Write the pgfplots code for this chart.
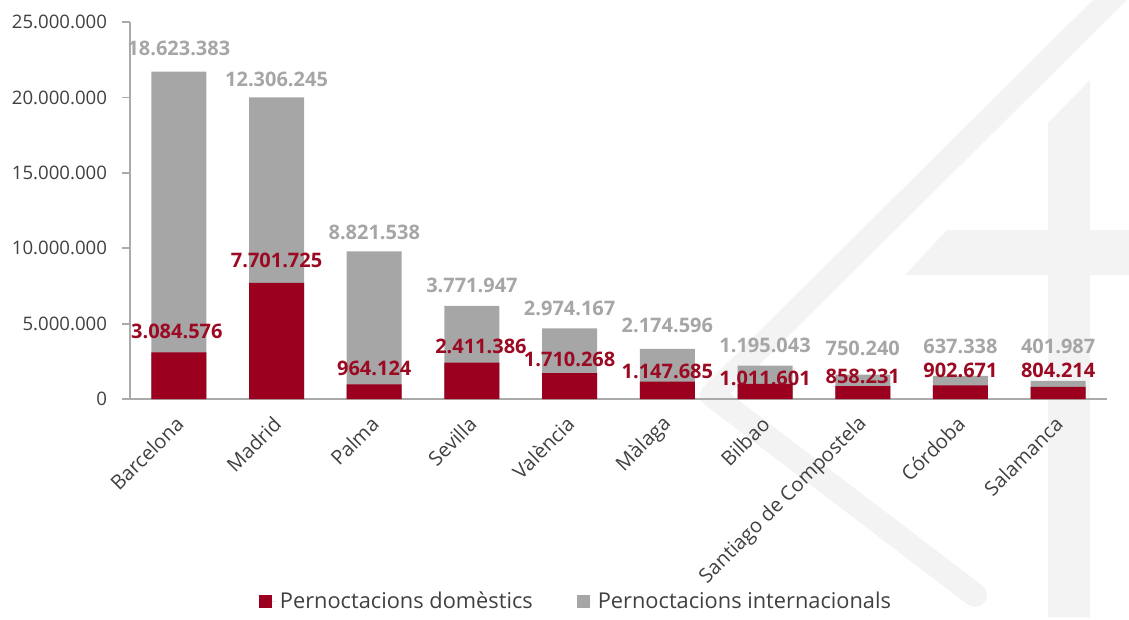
\documentclass[border=0pt]{standalone}
\usepackage{pgfplots}
\pgfplotsset{compat=1.18}
\usepackage{pgfplotstable}
\usepackage{fontspec}
\setmainfont{Open Sans}
\definecolor{barred}{RGB}{155,0,30}
\definecolor{bargray}{RGB}{166,166,166}
\definecolor{axgray}{RGB}{170,170,170}
\definecolor{tickcol}{RGB}{64,64,64}
\definecolor{labred}{RGB}{155,10,34}
\definecolor{labgray}{RGB}{166,166,166}
\definecolor{wm}{RGB}{243,243,243}

% dom = pernoctacions domestiques, total = domestiques + internacionals
\pgfplotstableread{
x dom total dlab ilab dys iys dxs
0 3084576 21707959 3.084.576 18.623.383 10.4 11.8 -1
1 7701725 20007970 7.701.725 12.306.245 11.1 9.2 0
2 964124 9785662 964.124 8.821.538 8.1 9.7 0
3 2411386 6183333 2.411.386 3.771.947 8.0 10.4 4.5
4 1710268 4684435 1.710.268 2.974.167 7.0 10.2 0
5 1147685 3322281 1.147.685 2.174.596 5.0 12.0 0
6 1011601 2206644 1.011.601 1.195.043 2.9 10.0 0
7 858231 1608471 858.231 750.240 5.0 13.4 0
8 902671 1540009 902.671 637.338 7.7 14.9 0
9 804214 1206201 804.214 401.987 8.0 17.4 0
}\data

\begin{document}
\begin{tikzpicture}
\begin{scope}[shift={(-65pt,199.5pt)}, x=0.5pt, y=-0.5pt]
\path (0,0) rectangle (1129,617);
\begin{scope}
\clip (0,0) rectangle (1129,617);
\draw[wm, line width=12pt, line cap=round, line join=round] (1120,-10) -- (712,395) -- (975,595);
\fill[wm] (1048,123) -- (1090,80) -- (1090,617) -- (1048,617) -- cycle;
\fill[wm] (947,230) -- (1129,230) -- (1129,275) -- (905,275) -- cycle;
\end{scope}
\end{scope}
\begin{axis}[
  scale only axis,
  width=488.5pt, height=188.5pt,
  ybar, bar shift=0pt,
  bar width=27.5pt,
  xmin=-0.5, xmax=9.5,
  ymin=0, ymax=25000000,
  axis x line*=bottom, axis y line*=left,
  axis line style={axgray, line width=0.9pt},
  xtick={0,...,9},
  xticklabels={Barcelona,Madrid,Palma,Sevilla,València,Màlaga,Bilbao,Santiago de Compostela,Córdoba,Salamanca},
  xtick style={draw=none},
  xticklabel style={xshift=0.5pt, yshift=-6.7pt, rotate=45, anchor=east, inner sep=0pt, text=tickcol, font=\fontsize{10}{12}\selectfont},
  ytick={0,5000000,10000000,15000000,20000000,25000000},
  yticklabels={0,5.000.000,10.000.000,15.000.000,20.000.000,25.000.000},
  scaled y ticks=false,
  tick align=outside,
  major tick length=4pt,
  ytick style={axgray, line width=0.9pt},
  yticklabel style={text=tickcol, font=\fontsize{9.3}{11}\selectfont, xshift=-4pt},
  legend style={at={(0.4575,-0.538)}, anchor=center, legend columns=2, draw=none, fill=none,
    font=\fontsize{10.9}{13}\selectfont, text=tickcol,
    /tikz/every even column/.append style={column sep=20pt}},
  legend image code/.code={\path (0pt,0pt) -- (8.5pt,0pt); \fill[#1,draw=none] (0pt,-3.25pt) rectangle (6.5pt,3.25pt);},
  every node near coord/.append style={font=\bfseries\fontsize{10}{12}\selectfont},
]
\addplot[fill=bargray, draw=none, forget plot] table[x=x, y=total]{\data};
\addplot[fill=barred, draw=none, forget plot] table[x=x, y=dom]{\data};
\addplot[draw=none, fill=none, forget plot, nodes near coords, point meta=explicit symbolic,
  visualization depends on={\thisrow{dys}\as\dys},
  visualization depends on={\thisrow{dxs}\as\dxs},
  every node near coord/.append style={anchor=center, yshift=\dys pt, xshift=\dxs pt, text=labred}]
  table[x=x, y=dom, meta=dlab]{\data};
\addplot[draw=none, fill=none, forget plot, nodes near coords, point meta=explicit symbolic,
  visualization depends on={\thisrow{iys}\as\iys},
  every node near coord/.append style={anchor=center, yshift=\iys pt, text=labgray}]
  table[x=x, y=total, meta=ilab]{\data};
\addlegendimage{fill=barred, draw=none}
\addlegendentry{Pernoctacions domèstics}
\addlegendimage{fill=bargray, draw=none}
\addlegendentry{Pernoctacions internacionals}
\end{axis}
\end{tikzpicture}
\end{document}
